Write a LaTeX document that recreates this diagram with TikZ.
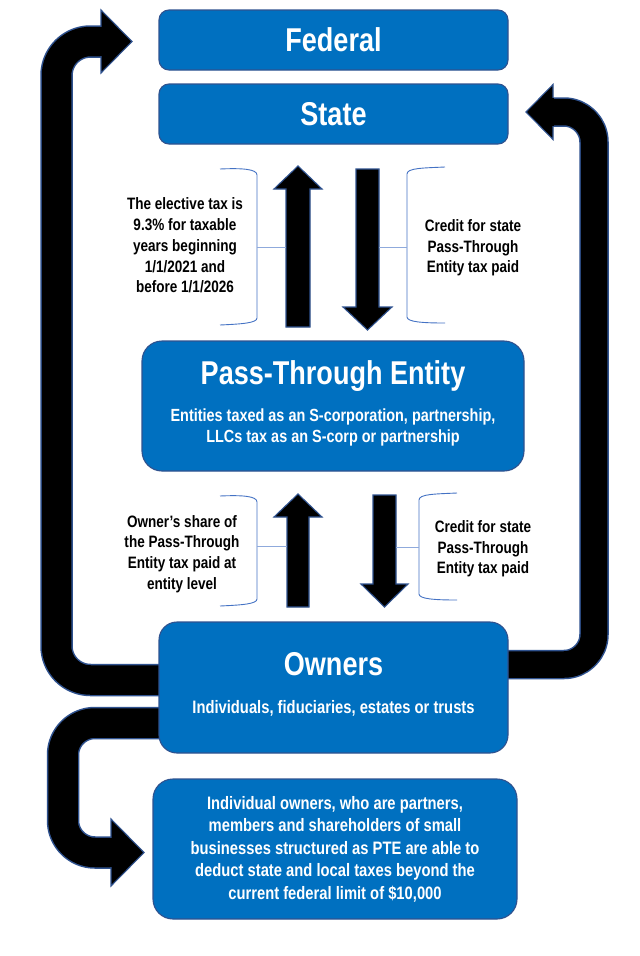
\documentclass[tikz,border=0pt]{standalone}
\usepackage{fontspec}
\setmainfont{Liberation Sans}[FakeStretch=0.82]
\usepackage{xcolor}
\usetikzlibrary{calc}
\definecolor{ptefill}{HTML}{0070C0}
\definecolor{pteedge}{HTML}{2F528F}
\definecolor{ptebrace}{HTML}{4472C4}
\definecolor{ptetick}{HTML}{8FAADC}
\tikzset{
  every picture/.append style={line join=round},
  pte box/.style={draw=pteedge,fill=ptefill,line width=1.1pt,rounded corners=16pt,inner sep=0pt},
  pte title/.style={text=white,font=\bfseries\fontsize{33}{36}\selectfont,inner sep=0pt},
  pte body/.style={text=white,font=\bfseries\fontsize{18}{22.5}\selectfont,align=center,inner sep=0pt},
  pte note/.style={text=black,font=\bfseries\fontsize{16.5}{20.7}\selectfont,align=center,inner sep=0pt},
  pte brace/.style={draw=ptebrace,line width=0.9pt},
  pte tick/.style={draw=ptetick,line width=0.6pt},
  pte flow/.style={fill=black,draw=pteedge,line width=1.1pt,line join=miter},
  pte loop/.style={line cap=butt,line join=round}
}

\begin{document}
\begin{tikzpicture}[x=1pt,y=-1pt]
  \useasboundingbox (0,0) rectangle (640,956);
  \fill[white] (0,0) rectangle (640,956);
  \coordinate (fed head) at (101,41.5);
  \coordinate (state head) at (553,112);
  \coordinate (deduct head) at (111,852.5);
  \foreach \c/\w in {pteedge/32.5,black/29.5} {
    \draw[pte loop,draw=\c,line width=\w,rounded corners=34] (165,680) -- (56.5,680) -- (56.5,41.5) -- ($(fed head)+(3,0)$);
    \draw[pte loop,draw=\c,line width=\w-3,rounded corners=30] (500,664.5) -- (594,664.5) -- (594,112) -- ($(state head)+(-3,0)$);
    \draw[pte loop,draw=\c,line width=\w,rounded corners=32] (165,723) -- (63,723) -- (63,852.5) -- ($(deduct head)+(3,0)$);
  }
  \draw[pte flow] ($(fed head)+(0,-31.5)$) -- (132,41.5) -- ($(fed head)+(0,31.5)$) -- cycle;
  \draw[pte flow] ($(state head)+(0,-27.5)$) -- (526,112) -- ($(state head)+(0,27.5)$) -- cycle;
  \draw[pte flow] ($(deduct head)+(0,-33.5)$) -- (144,852.5) -- ($(deduct head)+(0,33.5)$) -- cycle;
  \foreach \c/\w/\s in {fed head/31.5/14.75,state head/27.5/-13.25,deduct head/33.5/14.75} {
    \fill[black] ($(\c)+(-0.9,-\s+0.4)$) rectangle ($(\c)+(0.9,\s-0.4)$);
  }

  \node[pte box,minimum width=349,minimum height=60,rounded corners=10pt] (federal) at (333.5,40) {};
  \node[pte title] (federal text) at (federal.center) {Federal};
  \node[pte box,minimum width=349,minimum height=60,rounded corners=10pt] (state) at (333.5,114) {};
  \node[pte title] (state text) at (state.center) {State};
  \node[pte box,minimum width=382,minimum height=130,rounded corners=20pt] (pte) at (333,406) {};
  \node[pte title,anchor=base] (pte text) at (333,384) {Pass-Through Entity};
  \node[pte body,font=\bfseries\fontsize{17.6}{21}\selectfont] (pte kinds) at (333,427.5) {Entities taxed as an S-corporation, partnership,\\LLCs tax as an S-corp or partnership};
  \node[pte box,minimum width=349,minimum height=131,rounded corners=18pt] (owners) at (333.5,687.5) {};
  \node[pte title,anchor=base] (owners text) at (333.5,675) {Owners};
  \node[pte body] (owners kinds) at (333.5,708.5) {Individuals, fiduciaries, estates or trusts};
  \node[pte box,minimum width=364,minimum height=140,rounded corners=20pt] (deduct) at (335,849) {};
  \node[pte body] (deduct text) at (335,849) {Individual owners, who are partners,\\members and shareholders of small\\businesses structured as PTE are able to\\deduct state and local taxes beyond the\\current federal limit of \$10,000};

  \coordinate (pay tail) at (298,327);
  \coordinate (pay tip) at (298,166);
  \coordinate (credit tail) at (367.5,169);
  \coordinate (credit tip) at (367.5,330);
  \coordinate (share tail) at (298,607);
  \coordinate (share tip) at (298,494);
  \coordinate (refund tail) at (384.5,495);
  \coordinate (refund tip) at (384.5,607);
  \foreach \t/\h/\s/\w in {pay tail/pay tip/12pt/24pt,credit tail/credit tip/11.5pt/24.5pt,share tail/share tip/11pt/24pt,refund tail/refund tip/11.5pt/23.5pt} {
    \coordinate (flow base) at ($(\h)!23pt!(\t)$);
    \draw[pte flow] ($(\t)!\s!90:(\h)$) -- ($(flow base)!\s!90:(\h)$) -- ($(flow base)!\w!90:(\h)$) -- (\h)
      -- ($(flow base)!\w!-90:(\h)$) -- ($(flow base)!\s!-90:(\h)$) -- ($(\t)!\s!-90:(\h)$) -- cycle;
  }

  \draw[pte brace] (220,169) .. controls (242,168) and (257,169) .. (257,175) -- (257,318) .. controls (257,323) and (242,324) .. (220,325);
  \draw[pte brace] (445,167) .. controls (423,168) and (407,168) .. (407,174) -- (407,317) .. controls (407,322) and (423,323) .. (445,323);
  \draw[pte brace] (220,496) .. controls (242,495) and (257,496) .. (257,502) -- (257,599) .. controls (257,604) and (242,605) .. (220,606);
  \draw[pte brace] (457,493) .. controls (435,494) and (419,494) .. (419,500) -- (419,594) .. controls (419,599) and (435,600) .. (457,600);
  \draw[pte tick] (257,247) -- (286,247);
  \draw[pte tick] (379,247) -- (407,247);
  \draw[pte tick] (257,546) -- (287,546);
  \draw[pte tick] (396,547) -- (419,547);

  \node[pte note] (pay note) at (185,245.5) {The elective tax is\\9.3\% for taxable\\years beginning\\1/1/2021 and\\before 1/1/2026};
  \node[pte note] (credit note) at (473,248) {Credit for state\\Pass-Through\\Entity tax paid};
  \node[pte note] (share note) at (182,554) {Owner’s share of\\the Pass-Through\\Entity tax paid at\\entity level};
  \node[pte note] (refund note) at (483,549) {Credit for state\\Pass-Through\\Entity tax paid};
\end{tikzpicture}
\end{document}
